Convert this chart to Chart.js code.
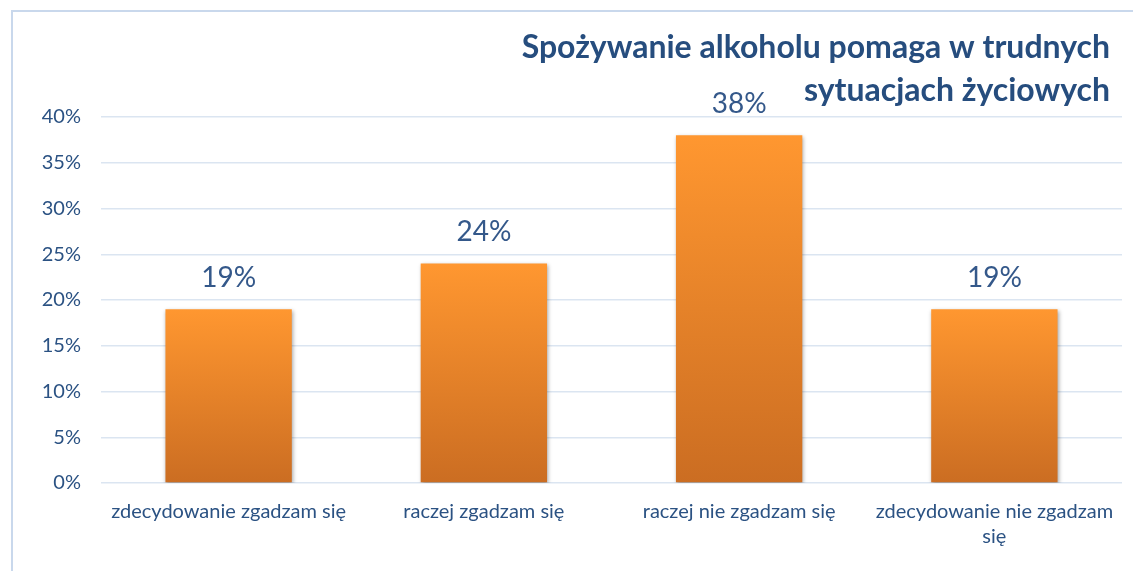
<!DOCTYPE html>
<html><head><meta charset="utf-8">
<script src="https://cdn.jsdelivr.net/npm/chart.js@4.4.0/dist/chart.umd.min.js"></script>
<style>
html,body{margin:0;padding:0;background:#fff;width:1133px;height:571px;overflow:hidden}
#frame{position:absolute;left:11px;top:10px;width:1200px;height:700px;border-left:2px solid #c9d8ec;border-top:2px solid #c9d8ec}
#wrap{position:absolute;left:0;top:0;width:1133px;height:571px}
</style></head>
<body>
<div id="frame"></div>
<div id="wrap"><canvas id="c" width="1133" height="571"></canvas></div>
<script>
const categories = [["zdecydowanie zgadzam się"], ["raczej zgadzam się"], ["raczej nie zgadzam się"], ["zdecydowanie nie zgadzam", "się"]];
const values = [19, 24, 38, 19];
const titleLines = ["Spożywanie alkoholu pomaga w trudnych", "sytuacjach życiowych"];
const yTicks = [0, 5, 10, 15, 20, 25, 30, 35, 40];

const FONT = "Lato, 'Open Sans', sans-serif";
const textBlue = '#2b5283';

const extras = {
  id: 'extras',
  beforeDatasetsDraw(chart) {
    const ctx = chart.ctx;
    ctx.save();
    ctx.shadowColor = 'rgba(0,0,0,0.35)';
    ctx.shadowBlur = 4;
    ctx.shadowOffsetX = 1;
    ctx.shadowOffsetY = 2;
  },
  afterDatasetsDraw(chart) {
    const ctx = chart.ctx;
    ctx.restore();
    ctx.save();
    ctx.fillStyle = '#34588a';
    ctx.font = '28px ' + FONT;
    ctx.textAlign = 'center';
    ctx.textBaseline = 'middle';
    chart.getDatasetMeta(0).data.forEach((bar, i) => {
      ctx.fillText(values[i] + '%', bar.x, bar.y - 31);
    });
    ctx.restore();
  },
  afterDraw(chart) {
    const ctx = chart.ctx;
    ctx.save();
    ctx.fillStyle = '#264d7e';
    ctx.font = 'bold 32px ' + FONT;
    ctx.textAlign = 'right';
    ctx.textBaseline = 'middle';
    ctx.fillText(titleLines[0], 1110, 48);
    ctx.fillText(titleLines[1], 1110, 91);
    ctx.restore();
  }
};

new Chart(document.getElementById('c'), {
  type: 'bar',
  data: {
    labels: categories,
    datasets: [{
      data: values,
      backgroundColor(context) {
        const chart = context.chart;
        const area = chart.chartArea;
        if (!area) return '#f08a2c';
        const y0 = chart.scales.y.getPixelForValue(0);
        const yt = chart.scales.y.getPixelForValue(values[context.dataIndex]);
        const g = chart.ctx.createLinearGradient(0, yt, 0, y0);
        g.addColorStop(0, '#ff9730');
        g.addColorStop(1, '#cb6d22');
        return g;
      },
      borderWidth: 0,
      categoryPercentage: 1,
      barPercentage: 0.495
    }]
  },
  options: {
    responsive: false,
    animation: false,
    devicePixelRatio: 1,
    layout: { padding: { left: 0, right: 11, top: 117, bottom: 0 } },
    plugins: { legend: { display: false }, tooltip: { enabled: false }, title: { display: false } },
    scales: {
      y: {
        min: 0, max: 40,
        afterFit(s) { s.width = 101; },
        afterBuildTicks(s) { s.ticks = yTicks.map(v => ({ value: v })); },
        border: { display: false },
        grid: { color: '#dbe5f1', lineWidth: 1.5, drawTicks: false },
        ticks: {
          padding: 20,
          color: textBlue,
          font: { family: FONT, size: 20 },
          callback: v => v + '%'
        }
      },
      x: {
        afterFit(s) { s.height = 88; },
        border: { display: false },
        grid: { display: false, drawTicks: false },
        ticks: {
          padding: 16,
          color: textBlue,
          font: { family: FONT, size: 20, lineHeight: 1.25 },
          maxRotation: 0,
          autoSkip: false
        }
      }
    }
  },
  plugins: [extras]
});
</script>
</body></html>
